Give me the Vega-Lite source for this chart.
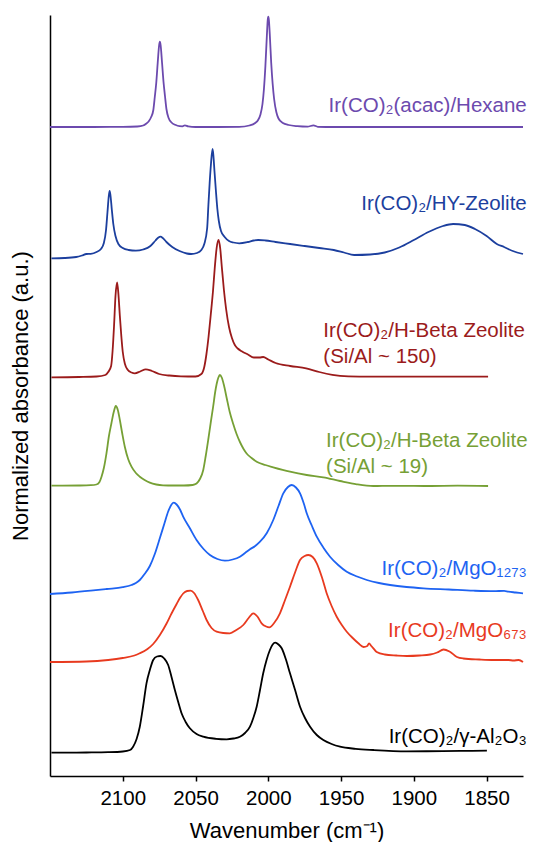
{
"$schema": "https://vega.github.io/schema/vega-lite/v6.json",
"width": 473, "height": 761,
"autosize": {"type": "none"},
"padding": {"left": 50, "top": 15, "right": 11, "bottom": 66},
"background": "white",
"config": {"view": {"stroke": null}, "font": "Liberation Sans"},
"datasets": {
"spectra": [
{"s":"acac","wn":2150,"a":6.49},{"s":"acac","wn":2120,"a":6.49},{"s":"acac","wn":2100,"a":6.491},{"s":"acac","wn":2090,"a":6.495},{"s":"acac","wn":2086,"a":6.505},{"s":"acac","wn":2084,"a":6.522},{"s":"acac","wn":2082,"a":6.55},{"s":"acac","wn":2080.5,"a":6.59},{"s":"acac","wn":2079,"a":6.66},{"s":"acac","wn":2078,"a":6.79},{"s":"acac","wn":2077,"a":6.93},{"s":"acac","wn":2076,"a":7.13},{"s":"acac","wn":2075,"a":7.31},{"s":"acac","wn":2074.5,"a":7.343},{"s":"acac","wn":2074,"a":7.31},{"s":"acac","wn":2073,"a":7.13},{"s":"acac","wn":2072,"a":6.94},{"s":"acac","wn":2071,"a":6.8},{"s":"acac","wn":2070,"a":6.67},{"s":"acac","wn":2068.5,"a":6.58},{"s":"acac","wn":2066.5,"a":6.535},{"s":"acac","wn":2064,"a":6.512},{"s":"acac","wn":2061,"a":6.498},{"s":"acac","wn":2059,"a":6.497},{"s":"acac","wn":2057.3,"a":6.507},{"s":"acac","wn":2055,"a":6.496},{"s":"acac","wn":2050,"a":6.49},{"s":"acac","wn":2035,"a":6.49},{"s":"acac","wn":2020,"a":6.492},{"s":"acac","wn":2013,"a":6.505},{"s":"acac","wn":2009,"a":6.53},{"s":"acac","wn":2007,"a":6.56},{"s":"acac","wn":2005.5,"a":6.61},{"s":"acac","wn":2004,"a":6.72},{"s":"acac","wn":2003,"a":6.87},{"s":"acac","wn":2002,"a":7.1},{"s":"acac","wn":2001,"a":7.4},{"s":"acac","wn":2000.4,"a":7.56},{"s":"acac","wn":2000,"a":7.593},{"s":"acac","wn":1999.6,"a":7.56},{"s":"acac","wn":1999,"a":7.42},{"s":"acac","wn":1998,"a":7.13},{"s":"acac","wn":1997,"a":6.92},{"s":"acac","wn":1996,"a":6.77},{"s":"acac","wn":1994.5,"a":6.64},{"s":"acac","wn":1993,"a":6.575},{"s":"acac","wn":1990,"a":6.53},{"s":"acac","wn":1986,"a":6.51},{"s":"acac","wn":1980,"a":6.498},{"s":"acac","wn":1973,"a":6.493},{"s":"acac","wn":1969,"a":6.507},{"s":"acac","wn":1966,"a":6.492},{"s":"acac","wn":1955,"a":6.49},{"s":"acac","wn":1930,"a":6.49},{"s":"acac","wn":1900,"a":6.49},{"s":"acac","wn":1870,"a":6.49},{"s":"acac","wn":1850,"a":6.49},{"s":"acac","wn":1825,"a":6.49},

{"s":"HY","wn":2149,"a":5.177},{"s":"HY","wn":2140,"a":5.18},{"s":"HY","wn":2132,"a":5.19},{"s":"HY","wn":2128,"a":5.205},{"s":"HY","wn":2125,"a":5.22},{"s":"HY","wn":2122,"a":5.222},{"s":"HY","wn":2118,"a":5.24},{"s":"HY","wn":2115,"a":5.27},{"s":"HY","wn":2113,"a":5.33},{"s":"HY","wn":2111.5,"a":5.46},{"s":"HY","wn":2110.5,"a":5.64},{"s":"HY","wn":2109.6,"a":5.8},{"s":"HY","wn":2109,"a":5.85},{"s":"HY","wn":2108.4,"a":5.8},{"s":"HY","wn":2107.5,"a":5.66},{"s":"HY","wn":2106.5,"a":5.52},{"s":"HY","wn":2105,"a":5.4},{"s":"HY","wn":2103,"a":5.32},{"s":"HY","wn":2100,"a":5.28},{"s":"HY","wn":2096,"a":5.26},{"s":"HY","wn":2091,"a":5.253},{"s":"HY","wn":2086,"a":5.265},{"s":"HY","wn":2081,"a":5.3},{"s":"HY","wn":2077.5,"a":5.355},{"s":"HY","wn":2075.5,"a":5.385},{"s":"HY","wn":2074,"a":5.393},{"s":"HY","wn":2072.5,"a":5.38},{"s":"HY","wn":2070,"a":5.34},{"s":"HY","wn":2066,"a":5.29},{"s":"HY","wn":2061,"a":5.25},{"s":"HY","wn":2056,"a":5.225},{"s":"HY","wn":2053,"a":5.22},{"s":"HY","wn":2049,"a":5.23},{"s":"HY","wn":2046,"a":5.26},{"s":"HY","wn":2044,"a":5.32},{"s":"HY","wn":2042,"a":5.48},{"s":"HY","wn":2041.2,"a":5.7},{"s":"HY","wn":2040.3,"a":5.93},{"s":"HY","wn":2039.4,"a":6.12},{"s":"HY","wn":2038.3,"a":6.27},{"s":"HY","wn":2037.7,"a":6.2},{"s":"HY","wn":2037,"a":6.05},{"s":"HY","wn":2036,"a":5.85},{"s":"HY","wn":2035,"a":5.67},{"s":"HY","wn":2034,"a":5.55},{"s":"HY","wn":2032.5,"a":5.45},{"s":"HY","wn":2030,"a":5.39},{"s":"HY","wn":2027,"a":5.35},{"s":"HY","wn":2024,"a":5.335},{"s":"HY","wn":2020,"a":5.327},{"s":"HY","wn":2014,"a":5.34},{"s":"HY","wn":2010,"a":5.355},{"s":"HY","wn":2007,"a":5.36},{"s":"HY","wn":2002,"a":5.355},{"s":"HY","wn":1995,"a":5.34},{"s":"HY","wn":1985,"a":5.32},{"s":"HY","wn":1975,"a":5.3},{"s":"HY","wn":1965,"a":5.28},{"s":"HY","wn":1955,"a":5.26},{"s":"HY","wn":1948,"a":5.235},{"s":"HY","wn":1941,"a":5.21},{"s":"HY","wn":1930,"a":5.215},{"s":"HY","wn":1920,"a":5.235},{"s":"HY","wn":1910,"a":5.285},{"s":"HY","wn":1900,"a":5.36},{"s":"HY","wn":1890,"a":5.44},{"s":"HY","wn":1880,"a":5.5},{"s":"HY","wn":1873,"a":5.52},{"s":"HY","wn":1865,"a":5.51},{"s":"HY","wn":1858,"a":5.47},{"s":"HY","wn":1850,"a":5.4},{"s":"HY","wn":1843,"a":5.32},{"s":"HY","wn":1838,"a":5.29},{"s":"HY","wn":1832,"a":5.25},{"s":"HY","wn":1825,"a":5.22},

{"s":"B150","wn":2149,"a":3.987},{"s":"B150","wn":2130,"a":3.99},{"s":"B150","wn":2118,"a":3.995},{"s":"B150","wn":2112,"a":4.01},{"s":"B150","wn":2110,"a":4.04},{"s":"B150","wn":2108,"a":4.1},{"s":"B150","wn":2107,"a":4.25},{"s":"B150","wn":2106,"a":4.5},{"s":"B150","wn":2105,"a":4.8},{"s":"B150","wn":2103.9,"a":4.937},{"s":"B150","wn":2103,"a":4.82},{"s":"B150","wn":2102,"a":4.6},{"s":"B150","wn":2101,"a":4.4},{"s":"B150","wn":2100,"a":4.24},{"s":"B150","wn":2098.5,"a":4.12},{"s":"B150","wn":2096.5,"a":4.06},{"s":"B150","wn":2094,"a":4.035},{"s":"B150","wn":2091.7,"a":4.027},{"s":"B150","wn":2088,"a":4.045},{"s":"B150","wn":2084.2,"a":4.067},{"s":"B150","wn":2080,"a":4.05},{"s":"B150","wn":2075,"a":4.02},{"s":"B150","wn":2068,"a":4.005},{"s":"B150","wn":2060,"a":3.997},{"s":"B150","wn":2050,"a":3.995},{"s":"B150","wn":2046,"a":4.02},{"s":"B150","wn":2044,"a":4.09},{"s":"B150","wn":2042.5,"a":4.22},{"s":"B150","wn":2041,"a":4.4},{"s":"B150","wn":2039.5,"a":4.62},{"s":"B150","wn":2038,"a":4.85},{"s":"B150","wn":2036.8,"a":5.08},{"s":"B150","wn":2035.5,"a":5.28},{"s":"B150","wn":2034.2,"a":5.36},{"s":"B150","wn":2033,"a":5.27},{"s":"B150","wn":2032,"a":5.1},{"s":"B150","wn":2030.5,"a":4.86},{"s":"B150","wn":2029,"a":4.67},{"s":"B150","wn":2027,"a":4.49},{"s":"B150","wn":2025,"a":4.38},{"s":"B150","wn":2023,"a":4.31},{"s":"B150","wn":2021,"a":4.275},{"s":"B150","wn":2018,"a":4.245},{"s":"B150","wn":2014,"a":4.215},{"s":"B150","wn":2010,"a":4.185},{"s":"B150","wn":2006,"a":4.185},{"s":"B150","wn":2003.5,"a":4.19},{"s":"B150","wn":2000,"a":4.165},{"s":"B150","wn":1995,"a":4.13},{"s":"B150","wn":1985,"a":4.1},{"s":"B150","wn":1974,"a":4.077},{"s":"B150","wn":1965,"a":4.04},{"s":"B150","wn":1956,"a":4.012},{"s":"B150","wn":1945,"a":3.997},{"s":"B150","wn":1930,"a":3.993},{"s":"B150","wn":1900,"a":3.993},{"s":"B150","wn":1870,"a":3.993},{"s":"B150","wn":1849,"a":3.993},

{"s":"B19","wn":2149,"a":2.903},{"s":"B19","wn":2130,"a":2.905},{"s":"B19","wn":2122,"a":2.908},{"s":"B19","wn":2118.1,"a":2.915},{"s":"B19","wn":2116,"a":2.94},{"s":"B19","wn":2114.6,"a":2.993},{"s":"B19","wn":2113,"a":3.08},{"s":"B19","wn":2111.2,"a":3.227},{"s":"B19","wn":2109.5,"a":3.4},{"s":"B19","wn":2107.8,"a":3.527},{"s":"B19","wn":2106.2,"a":3.64},{"s":"B19","wn":2104.8,"a":3.7},{"s":"B19","wn":2103.4,"a":3.66},{"s":"B19","wn":2102,"a":3.56},{"s":"B19","wn":2100.3,"a":3.42},{"s":"B19","wn":2098.6,"a":3.293},{"s":"B19","wn":2096.3,"a":3.17},{"s":"B19","wn":2094,"a":3.093},{"s":"B19","wn":2091,"a":3.03},{"s":"B19","wn":2088.3,"a":2.993},{"s":"B19","wn":2085,"a":2.96},{"s":"B19","wn":2081.4,"a":2.933},{"s":"B19","wn":2077,"a":2.915},{"s":"B19","wn":2072.3,"a":2.907},{"s":"B19","wn":2065.4,"a":2.905},{"s":"B19","wn":2058,"a":2.905},{"s":"B19","wn":2052,"a":2.91},{"s":"B19","wn":2049.3,"a":2.925},{"s":"B19","wn":2047,"a":2.97},{"s":"B19","wn":2044.7,"a":3.06},{"s":"B19","wn":2043,"a":3.2},{"s":"B19","wn":2041.3,"a":3.36},{"s":"B19","wn":2039.5,"a":3.54},{"s":"B19","wn":2037.9,"a":3.693},{"s":"B19","wn":2036.5,"a":3.84},{"s":"B19","wn":2035.5,"a":3.92},{"s":"B19","wn":2034.3,"a":3.985},{"s":"B19","wn":2033.3,"a":4.01},{"s":"B19","wn":2032,"a":3.985},{"s":"B19","wn":2030.5,"a":3.91},{"s":"B19","wn":2028.6,"a":3.78},{"s":"B19","wn":2026.5,"a":3.64},{"s":"B19","wn":2024.1,"a":3.52},{"s":"B19","wn":2021.8,"a":3.42},{"s":"B19","wn":2019.5,"a":3.34},{"s":"B19","wn":2017,"a":3.27},{"s":"B19","wn":2014.9,"a":3.225},{"s":"B19","wn":2011.5,"a":3.18},{"s":"B19","wn":2008,"a":3.143},{"s":"B19","wn":2002,"a":3.11},{"s":"B19","wn":1996.6,"a":3.087},{"s":"B19","wn":1985.1,"a":3.043},{"s":"B19","wn":1973.6,"a":3.01},{"s":"B19","wn":1962.2,"a":2.987},{"s":"B19","wn":1950.7,"a":2.95},{"s":"B19","wn":1939.2,"a":2.917},{"s":"B19","wn":1927.8,"a":2.9},{"s":"B19","wn":1910,"a":2.902},{"s":"B19","wn":1890,"a":2.9},{"s":"B19","wn":1870,"a":2.903},{"s":"B19","wn":1849,"a":2.9},

{"s":"Mg1273","wn":2150,"a":1.82},{"s":"Mg1273","wn":2135,"a":1.835},{"s":"Mg1273","wn":2122,"a":1.853},{"s":"Mg1273","wn":2111,"a":1.87},{"s":"Mg1273","wn":2100,"a":1.888},{"s":"Mg1273","wn":2094,"a":1.91},{"s":"Mg1273","wn":2091,"a":1.93},{"s":"Mg1273","wn":2088.3,"a":1.96},{"s":"Mg1273","wn":2085,"a":2.02},{"s":"Mg1273","wn":2081.4,"a":2.1},{"s":"Mg1273","wn":2078,"a":2.22},{"s":"Mg1273","wn":2074.5,"a":2.38},{"s":"Mg1273","wn":2071.5,"a":2.52},{"s":"Mg1273","wn":2068.8,"a":2.645},{"s":"Mg1273","wn":2066.5,"a":2.715},{"s":"Mg1273","wn":2064.9,"a":2.733},{"s":"Mg1273","wn":2063,"a":2.715},{"s":"Mg1273","wn":2060.5,"a":2.66},{"s":"Mg1273","wn":2058.5,"a":2.593},{"s":"Mg1273","wn":2054,"a":2.48},{"s":"Mg1273","wn":2049.3,"a":2.36},{"s":"Mg1273","wn":2044.5,"a":2.27},{"s":"Mg1273","wn":2040.1,"a":2.21},{"s":"Mg1273","wn":2035,"a":2.17},{"s":"Mg1273","wn":2029.8,"a":2.153},{"s":"Mg1273","wn":2024.5,"a":2.165},{"s":"Mg1273","wn":2019.5,"a":2.193},{"s":"Mg1273","wn":2016,"a":2.23},{"s":"Mg1273","wn":2012.6,"a":2.267},{"s":"Mg1273","wn":2009,"a":2.3},{"s":"Mg1273","wn":2005.7,"a":2.343},{"s":"Mg1273","wn":2001,"a":2.43},{"s":"Mg1273","wn":1996.6,"a":2.56},{"s":"Mg1273","wn":1993,"a":2.7},{"s":"Mg1273","wn":1989.7,"a":2.827},{"s":"Mg1273","wn":1986.5,"a":2.89},{"s":"Mg1273","wn":1983.9,"a":2.91},{"s":"Mg1273","wn":1981,"a":2.885},{"s":"Mg1273","wn":1978.2,"a":2.827},{"s":"Mg1273","wn":1975.5,"a":2.72},{"s":"Mg1273","wn":1973.6,"a":2.627},{"s":"Mg1273","wn":1970,"a":2.5},{"s":"Mg1273","wn":1966.7,"a":2.393},{"s":"Mg1273","wn":1962,"a":2.28},{"s":"Mg1273","wn":1957.6,"a":2.193},{"s":"Mg1273","wn":1952,"a":2.11},{"s":"Mg1273","wn":1946.1,"a":2.043},{"s":"Mg1273","wn":1939,"a":1.995},{"s":"Mg1273","wn":1932.3,"a":1.96},{"s":"Mg1273","wn":1924,"a":1.93},{"s":"Mg1273","wn":1916.3,"a":1.91},{"s":"Mg1273","wn":1905,"a":1.89},{"s":"Mg1273","wn":1893.4,"a":1.877},{"s":"Mg1273","wn":1876,"a":1.865},{"s":"Mg1273","wn":1859,"a":1.853},{"s":"Mg1273","wn":1845,"a":1.848},{"s":"Mg1273","wn":1838,"a":1.852},{"s":"Mg1273","wn":1835,"a":1.843},{"s":"Mg1273","wn":1830,"a":1.835},{"s":"Mg1273","wn":1825,"a":1.827},

{"s":"Mg673","wn":2150,"a":1.14},{"s":"Mg673","wn":2125,"a":1.145},{"s":"Mg673","wn":2110,"a":1.16},{"s":"Mg673","wn":2100,"a":1.18},{"s":"Mg673","wn":2092,"a":1.205},{"s":"Mg673","wn":2088.3,"a":1.227},{"s":"Mg673","wn":2083,"a":1.27},{"s":"Mg673","wn":2079.1,"a":1.32},{"s":"Mg673","wn":2074.5,"a":1.41},{"s":"Mg673","wn":2069.9,"a":1.525},{"s":"Mg673","wn":2066.5,"a":1.625},{"s":"Mg673","wn":2063,"a":1.72},{"s":"Mg673","wn":2060.5,"a":1.785},{"s":"Mg673","wn":2058.5,"a":1.825},{"s":"Mg673","wn":2055.8,"a":1.85},{"s":"Mg673","wn":2053.4,"a":1.853},{"s":"Mg673","wn":2051,"a":1.83},{"s":"Mg673","wn":2048.2,"a":1.76},{"s":"Mg673","wn":2045,"a":1.65},{"s":"Mg673","wn":2042.4,"a":1.56},{"s":"Mg673","wn":2039,"a":1.48},{"s":"Mg673","wn":2035.5,"a":1.443},{"s":"Mg673","wn":2031,"a":1.43},{"s":"Mg673","wn":2026.4,"a":1.427},{"s":"Mg673","wn":2022,"a":1.46},{"s":"Mg673","wn":2017.2,"a":1.51},{"s":"Mg673","wn":2013.5,"a":1.58},{"s":"Mg673","wn":2010.4,"a":1.627},{"s":"Mg673","wn":2007.5,"a":1.595},{"s":"Mg673","wn":2004.6,"a":1.527},{"s":"Mg673","wn":2001.5,"a":1.495},{"s":"Mg673","wn":1999.3,"a":1.487},{"s":"Mg673","wn":1996,"a":1.53},{"s":"Mg673","wn":1992,"a":1.627},{"s":"Mg673","wn":1988.5,"a":1.76},{"s":"Mg673","wn":1985.1,"a":1.893},{"s":"Mg673","wn":1981.5,"a":2.04},{"s":"Mg673","wn":1978.2,"a":2.16},{"s":"Mg673","wn":1975,"a":2.2},{"s":"Mg673","wn":1972.5,"a":2.21},{"s":"Mg673","wn":1969.5,"a":2.19},{"s":"Mg673","wn":1966.7,"a":2.127},{"s":"Mg673","wn":1963,"a":1.98},{"s":"Mg673","wn":1959.9,"a":1.827},{"s":"Mg673","wn":1956.5,"a":1.7},{"s":"Mg673","wn":1953,"a":1.593},{"s":"Mg673","wn":1949.5,"a":1.51},{"s":"Mg673","wn":1946.1,"a":1.443},{"s":"Mg673","wn":1942,"a":1.38},{"s":"Mg673","wn":1938.1,"a":1.327},{"s":"Mg673","wn":1934.5,"a":1.29},{"s":"Mg673","wn":1932,"a":1.3},{"s":"Mg673","wn":1930.8,"a":1.327},{"s":"Mg673","wn":1929.2,"a":1.3},{"s":"Mg673","wn":1927.8,"a":1.277},{"s":"Mg673","wn":1925.5,"a":1.24},{"s":"Mg673","wn":1920,"a":1.215},{"s":"Mg673","wn":1912,"a":1.205},{"s":"Mg673","wn":1904.8,"a":1.2},{"s":"Mg673","wn":1896,"a":1.205},{"s":"Mg673","wn":1888.8,"a":1.215},{"s":"Mg673","wn":1884,"a":1.235},{"s":"Mg673","wn":1879.6,"a":1.265},{"s":"Mg673","wn":1875.5,"a":1.245},{"s":"Mg673","wn":1870.4,"a":1.19},{"s":"Mg673","wn":1866,"a":1.175},{"s":"Mg673","wn":1855,"a":1.165},{"s":"Mg673","wn":1845,"a":1.16},{"s":"Mg673","wn":1835,"a":1.16},{"s":"Mg673","wn":1831.5,"a":1.155},{"s":"Mg673","wn":1828,"a":1.16},{"s":"Mg673","wn":1825,"a":1.14},

{"s":"Al","wn":2149,"a":0.233},{"s":"Al","wn":2125,"a":0.235},{"s":"Al","wn":2110,"a":0.238},{"s":"Al","wn":2100,"a":0.245},{"s":"Al","wn":2095,"a":0.26},{"s":"Al","wn":2092.9,"a":0.293},{"s":"Al","wn":2090.5,"a":0.37},{"s":"Al","wn":2088.3,"a":0.493},{"s":"Al","wn":2086,"a":0.7},{"s":"Al","wn":2083.7,"a":0.927},{"s":"Al","wn":2081.4,"a":1.06},{"s":"Al","wn":2079.1,"a":1.16},{"s":"Al","wn":2076.5,"a":1.195},{"s":"Al","wn":2074,"a":1.2},{"s":"Al","wn":2071.5,"a":1.175},{"s":"Al","wn":2068.8,"a":1.11},{"s":"Al","wn":2066.5,"a":0.99},{"s":"Al","wn":2064.2,"a":0.86},{"s":"Al","wn":2061.9,"a":0.74},{"s":"Al","wn":2059.6,"a":0.627},{"s":"Al","wn":2056.8,"a":0.54},{"s":"Al","wn":2053.9,"a":0.477},{"s":"Al","wn":2049.3,"a":0.42},{"s":"Al","wn":2044.7,"a":0.393},{"s":"Al","wn":2036,"a":0.372},{"s":"Al","wn":2028.6,"a":0.367},{"s":"Al","wn":2024,"a":0.375},{"s":"Al","wn":2019.5,"a":0.393},{"s":"Al","wn":2016,"a":0.43},{"s":"Al","wn":2012.6,"a":0.493},{"s":"Al","wn":2010.3,"a":0.58},{"s":"Al","wn":2008,"a":0.693},{"s":"Al","wn":2005.7,"a":0.86},{"s":"Al","wn":2003.5,"a":1.027},{"s":"Al","wn":2001.2,"a":1.16},{"s":"Al","wn":1998.9,"a":1.26},{"s":"Al","wn":1997,"a":1.315},{"s":"Al","wn":1995.2,"a":1.333},{"s":"Al","wn":1993,"a":1.315},{"s":"Al","wn":1990.8,"a":1.277},{"s":"Al","wn":1988,"a":1.17},{"s":"Al","wn":1985.1,"a":1.027},{"s":"Al","wn":1981.6,"a":0.86},{"s":"Al","wn":1978.2,"a":0.693},{"s":"Al","wn":1974.8,"a":0.58},{"s":"Al","wn":1971.3,"a":0.493},{"s":"Al","wn":1966.7,"a":0.41},{"s":"Al","wn":1962.2,"a":0.36},{"s":"Al","wn":1956.5,"a":0.32},{"s":"Al","wn":1950.7,"a":0.293},{"s":"Al","wn":1940,"a":0.272},{"s":"Al","wn":1927.8,"a":0.26},{"s":"Al","wn":1904.8,"a":0.247},{"s":"Al","wn":1880,"a":0.248},{"s":"Al","wn":1860,"a":0.252},{"s":"Al","wn":1849.8,"a":0.253}
],
"labelsR": [
{"s":"acac","wn":1822.4,"a":6.64,"t":"Ir(CO)₂(acac)/Hexane"},
{"s":"HY","wn":1822.4,"a":5.66,"t":"Ir(CO)₂/HY-Zeolite"},
{"s":"Mg1273","wn":1822.4,"a":2.01,"t":"Ir(CO)₂/MgO₁₂₇₃"},
{"s":"Mg673","wn":1822.4,"a":1.387,"t":"Ir(CO)₂/MgO₆₇₃"},
{"s":"Al","wn":1822.4,"a":0.327,"t":"Ir(CO)₂/γ-Al₂O₃"}
],
"labelsL": [
{"s":"B150","wn":1962.2,"a":4.387,"t":"Ir(CO)₂/H-Beta Zeolite\n(Si/Al ~ 150)"},
{"s":"B19","wn":1960.3,"a":3.295,"t":"Ir(CO)₂/H-Beta Zeolite\n(Si/Al ~ 19)"}
]
},
"encoding": {
"x": {"field": "wn", "type": "quantitative",
 "scale": {"domain": [1825, 2150], "reverse": true, "nice": false, "zero": false},
 "axis": {"values": [2100, 2050, 2000, 1950, 1900, 1850], "format": "d", "title": "Wavenumber (cm⁻¹)", "grid": false, "tickSize": 5, "labelPadding": 7, "titlePadding": 12, "labelFontSize": 20.5, "titleFontSize": 22, "titleFontWeight": "normal", "domainColor": "black", "tickColor": "black", "labelColor": "black", "titleColor": "black", "domainWidth": 1.5, "tickWidth": 1.5, "labelOverlap": false, "labelFlush": false}},
"y": {"field": "a", "type": "quantitative",
 "scale": {"domain": [0, 7.61], "nice": false, "zero": false},
 "axis": {"title": "Normalized absorbance (a.u.)", "ticks": false, "labels": false, "grid": false, "domainColor": "black", "domainWidth": 1.5, "titlePadding": 18, "titleFontSize": 22, "titleFontWeight": "normal", "titleColor": "black"}},
"color": {"field": "s", "type": "nominal", "legend": null,
 "scale": {"domain": ["acac", "HY", "B150", "B19", "Mg1273", "Mg673", "Al"], "range": ["#6C4AAE", "#1C3F9E", "#9B1B1B", "#76A035", "#1E63F2", "#E83A1F", "#000000"]}}
},
"layer": [
{"data": {"name": "spectra"}, "mark": {"type": "line", "strokeWidth": 1.8, "interpolate": "monotone"}},
{"data": {"name": "labelsR"}, "mark": {"type": "text", "align": "right", "baseline": "alphabetic", "fontSize": 20.5}, "encoding": {"text": {"field": "t"}}},
{"data": {"name": "labelsL"}, "mark": {"type": "text", "align": "left", "baseline": "alphabetic", "fontSize": 20.5, "lineBreak": "\n", "lineHeight": 26}, "encoding": {"text": {"field": "t"}}}
]
}
